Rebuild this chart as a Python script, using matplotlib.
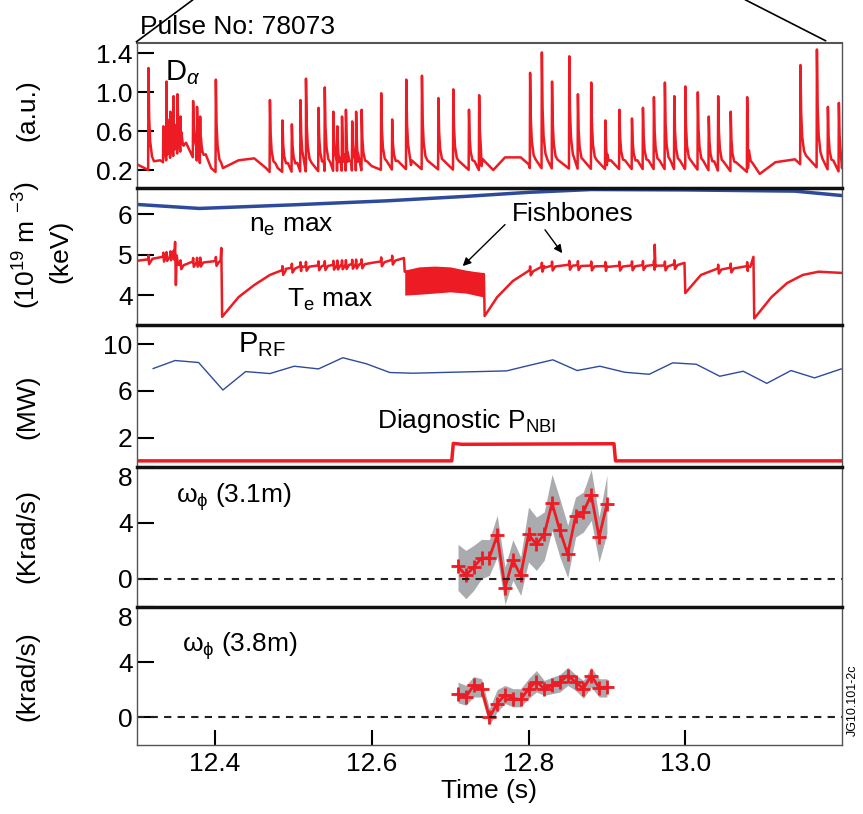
"""
JET pulse 78073: D-alpha, ne/Te, heating power and toroidal rotation traces.
"""

import numpy as np
import matplotlib.pyplot as plt
from matplotlib.lines import Line2D

plt.rcParams['font.family'] = ['Liberation Sans', 'DejaVu Sans']
plt.rcParams['mathtext.fontset'] = 'custom'
plt.rcParams['mathtext.rm'] = 'Liberation Sans'
plt.rcParams['mathtext.it'] = 'Liberation Sans:italic'

RED = '#ed1c24'
BLUE = '#2e4b9b'
GREY = '#a9abae'
FS = 19

# ---- D-alpha: ELM spike times (s) and peak heights (a.u.)
elm_t = [12.315, 12.334, 12.338, 12.343, 12.347, 12.352, 12.356, 12.372, 12.377,
         12.381, 12.401, 12.470, 12.486, 12.498, 12.509, 12.516, 12.532, 12.540,
         12.551, 12.556, 12.562, 12.567, 12.575, 12.580, 12.587, 12.612, 12.626,
         12.644, 12.664, 12.685, 12.704, 12.724, 12.737, 12.802, 12.817, 12.830,
         12.852, 12.863, 12.880, 12.898, 12.916, 12.932, 12.946, 12.960, 12.974,
         12.986, 13.000, 13.016, 13.030, 13.042, 13.058, 13.079, 13.147, 13.168,
         13.182, 13.196]
elm_h = [1.25, 0.65, 1.11, 0.80, 0.96, 0.98, 0.75, 0.91, 0.85,
         0.75, 1.13, 0.92, 0.71, 0.67, 0.92, 1.14, 0.84, 1.05,
         0.80, 0.65, 0.75, 0.82, 0.70, 0.80, 0.82, 0.99, 0.72,
         1.13, 1.17, 0.94, 1.03, 0.82, 0.97, 1.20, 1.41, 1.11,
         1.37, 0.98, 1.10, 0.71, 0.82, 0.73, 0.84, 0.95, 1.10,
         0.96, 1.06, 1.00, 0.75, 0.96, 0.80, 0.95, 1.28, 1.44,
         0.85, 0.89]
# inter-ELM baseline
da_base_t = [12.300, 12.310, 12.330, 12.360, 12.395, 12.410, 12.430, 12.450, 12.465,
             12.480, 12.600, 12.650, 12.740, 12.755, 12.770, 12.790, 12.800, 12.900,
             13.000, 13.080, 13.095, 13.115, 13.140, 13.200]
da_base_v = [0.26, 0.22, 0.30, 0.45, 0.22, 0.22, 0.30, 0.32, 0.22,
             0.22, 0.24, 0.25, 0.24, 0.20, 0.33, 0.33, 0.26, 0.25,
             0.25, 0.22, 0.16, 0.28, 0.31, 0.22]

# ---- central density and electron temperature
ne_t = [12.30, 12.38, 12.50, 12.62, 12.72, 12.80, 12.88, 13.00, 13.14, 13.20]
ne_v = [6.25, 6.15, 6.24, 6.34, 6.45, 6.55, 6.62, 6.61, 6.58, 6.47]

te_t = [12.300, 12.320, 12.347, 12.349, 12.350, 12.353, 12.370, 12.407, 12.408,
        12.409, 12.430, 12.450, 12.470, 12.490, 12.510, 12.550, 12.600, 12.641,
        12.642, 12.743, 12.744, 12.760, 12.780, 12.800, 12.820, 12.850, 12.900,
        12.960, 12.961, 12.962, 12.999, 13.000, 13.020, 13.040, 13.080, 13.087,
        13.088, 13.110, 13.130, 13.150, 13.170, 13.200]
te_v = [4.85, 4.90, 5.00, 5.32, 4.25, 4.75, 4.82, 4.85, 5.17,
        3.46, 3.95, 4.25, 4.50, 4.65, 4.72, 4.75, 4.80, 4.92,
        4.58, 4.52, 3.48, 3.95, 4.35, 4.60, 4.72, 4.75, 4.72,
        4.75, 5.25, 4.70, 4.80, 4.05, 4.50, 4.65, 4.72, 4.95,
        3.42, 3.95, 4.30, 4.50, 4.58, 4.55]
# fishbone-modulated phase: envelope of the oscillating Te
fb_t = [12.642, 12.660, 12.680, 12.700, 12.720, 12.743]
fb_lo = [4.00, 4.02, 4.05, 4.08, 4.05, 3.95]
fb_hi = [4.62, 4.70, 4.72, 4.70, 4.62, 4.55]

# ---- heating power
prf_t = [12.321, 12.349, 12.379, 12.410, 12.439, 12.470, 12.501, 12.532, 12.563,
         12.593, 12.623, 12.652, 12.772, 12.802, 12.831, 12.862, 12.891, 12.923,
         12.954, 12.984, 13.014, 13.044, 13.074, 13.104, 13.135, 13.165, 13.199]
prf_v = [7.92, 8.61, 8.44, 6.08, 7.66, 7.49, 8.12, 7.89, 8.85,
         8.33, 7.58, 7.52, 7.72, 8.21, 8.67, 7.75, 8.12, 7.60,
         7.43, 8.41, 8.29, 7.26, 7.69, 6.65, 7.75, 7.12, 7.89]
nbi_t = [12.30, 12.702, 12.704, 12.715, 12.909, 12.911, 13.20]
nbi_v = [0.0, 0.0, 1.50, 1.42, 1.47, 0.0, 0.0]

# ---- toroidal rotation from CXRS, two radii
cx_t = [12.71, 12.72, 12.73, 12.74, 12.75, 12.76, 12.77, 12.78, 12.79, 12.80,
        12.81, 12.82, 12.83, 12.84, 12.85, 12.86, 12.87, 12.88, 12.89, 12.90]
w31 = [0.88, 0.24, 0.83, 1.47, 1.50, 3.09, -0.64, 1.31, 0.24, 3.16,
       2.45, 3.16, 5.40, 3.45, 1.74, 4.45, 4.76, 6.00, 2.97, 5.31]
w31_hi = [2.45, 2.02, 2.38, 2.81, 2.79, 4.52, 0.83, 2.79, 1.55, 5.12,
          4.40, 4.76, 7.45, 5.71, 3.81, 5.83, 6.19, 7.79, 4.40, 7.38]
w31_lo = [-0.84, -1.43, -0.84, 0.00, 0.24, 1.55, -1.84, -0.12, -1.19, 1.19,
          0.59, 1.31, 3.45, 1.55, 0.07, 2.97, 3.33, 4.16, 1.19, 3.21]
w38 = [1.71, 1.47, 2.31, 2.07, 0.00, 1.00, 1.64, 1.36, 1.29, 2.07,
       2.59, 2.07, 2.31, 2.55, 3.02, 2.55, 2.07, 3.02, 2.14, 2.19]
w38_hi = [2.55, 2.31, 2.95, 2.79, 0.64, 2.00, 2.31, 2.07, 2.07, 2.79,
          3.38, 2.67, 2.90, 3.09, 3.62, 3.09, 2.67, 3.62, 2.79, 2.79]
w38_lo = [1.05, 0.88, 1.47, 1.47, -0.55, 0.40, 1.00, 0.76, 0.76, 1.36,
          1.83, 1.59, 1.71, 1.83, 2.31, 1.95, 1.38, 2.19, 1.47, 1.47]


def elm_trace(base_t, base_v, spk_t, spk_h):
    """Polyline for a baseline with sharp ELM spikes on top."""
    pts = list(zip(base_t, base_v))
    for t, h in zip(spk_t, spk_h):
        b = np.interp(t, base_t, base_v)
        pts += [(t - 0.0004, b - 0.04), (t, h), (t + 0.0009, b + 0.5 * (h - b)),
                (t + 0.0022, b + 0.25 * (h - b)), (t + 0.0045, b + 0.1 * (h - b)),
                (t + 0.007, b + 0.05)]
    pts.sort()
    tt, vv = zip(*pts)
    return np.array(tt), np.array(vv)


def te_with_elms(t_knots, v_knots, spk_t):
    """Te trace with the small kicks each ELM leaves on it."""
    pts = list(zip(t_knots, v_knots))
    for t in spk_t:
        b = np.interp(t, t_knots, v_knots)
        if b < 4.6:
            continue
        pts += [(t - 0.0004, b), (t, b + 0.10), (t + 0.0008, b - 0.12), (t + 0.004, b - 0.02)]
    pts.sort()
    tt, vv = zip(*pts)
    return np.array(tt), np.array(vv)


W_PX, H_PX = 863, 814
fig = plt.figure(figsize=(W_PX / 100, H_PX / 100), dpi=100)
left, right = 136.7, 842.0
edges = [42.7, 187.5, 324.5, 466.7, 606.7, 745.0]
axes = []
for top, bot in zip(edges[:-1], edges[1:]):
    ax = fig.add_axes([left / W_PX, 1 - bot / H_PX, (right - left) / W_PX, (bot - top) / H_PX])
    ax.set_xlim(12.3, 13.2)
    for s in ('left', 'right', 'bottom'):
        ax.spines[s].set_color('#555555')
        ax.spines[s].set_linewidth(1.0)
    ax.spines['top'].set_linewidth(2.5)
    ax.spines['top'].set_color('#111111')
    ax.tick_params(axis='y', direction='in', length=12, width=1.5, labelsize=FS, pad=3)
    ax.tick_params(axis='x', bottom=False, labelbottom=False)
    axes.append(ax)
ax1, ax2, ax3, ax4, ax5 = axes
ax1.spines['top'].set_linewidth(1.5)
ax1.spines['top'].set_color('#555555')

# D-alpha
t, v = elm_trace(da_base_t, da_base_v, elm_t, elm_h)
ax1.plot(t, v, color=RED, lw=1.8)
ax1.set_ylim(0.02, 1.51)
ax1.set_yticks([0.2, 0.6, 1.0, 1.4])
ax1.text(12.336, 1.2, r'D$_\alpha$', fontsize=21, va='center')

# ne and Te
ax2.plot(ne_t, ne_v, color=BLUE, lw=2.5)
t, v = te_with_elms(te_t, te_v, elm_t)
ax2.plot(t, v, color=RED, lw=1.8)
ax2.fill_between(fb_t, fb_lo, fb_hi, color=RED, lw=0)
ax2.set_ylim(3.27, 6.67)
ax2.set_yticks([4, 5, 6])
ax2.text(12.498, 5.71, r'n$_{\rm e}$ max', fontsize=FS, ha='center', va='center')
ax2.text(12.547, 3.87, r'T$_{\rm e}$ max', fontsize=FS, ha='center', va='center')
ax2.text(12.857, 6.0, 'Fishbones', fontsize=FS, ha='center', va='center')
arrow = dict(arrowstyle='-|>', color='k', lw=1, mutation_scale=12, shrinkA=0, shrinkB=0)
ax2.annotate('', xy=(12.716, 4.72), xytext=(12.770, 5.75), arrowprops=arrow)
ax2.annotate('', xy=(12.843, 5.04), xytext=(12.821, 5.62), arrowprops=arrow)

# heating power
ax3.plot(prf_t, prf_v, color=BLUE, lw=1.0)
ax3.plot(nbi_t, nbi_v, color=RED, lw=2.5)
ax3.set_ylim(-0.5, 11.7)
ax3.set_yticks([2, 6, 10])
ax3.text(12.429, 10.0, r'P$_{\rm RF}$', fontsize=21, va='center')
ax3.text(12.607, 3.4, r'Diagnostic P$_{\rm NBI}$', fontsize=FS, va='center')

# rotation
omega = r'ω$_{\rm ϕ}$'
for ax, w, lo, hi in [(ax4, w31, w31_lo, w31_hi), (ax5, w38, w38_lo, w38_hi)]:
    ax.fill_between(cx_t, lo, hi, color=GREY, lw=0)
    ax.plot(cx_t, w, color=RED, lw=2, marker='+', ms=10, mew=2)
    ax.axhline(0, color='#222222', lw=1.5, ls=(0, (3.5, 3)))
    ax.set_ylim(-2, 8)
    ax.set_yticks([0, 4, 8])
    ax.yaxis.get_major_ticks()[-1].label1.set_verticalalignment('top')
ax4.text(12.35, 5.83, omega + ' (3.1m)', fontsize=FS, va='center')
ax5.text(12.358, 5.16, omega + ' (3.8m)', fontsize=FS, va='center')

ax5.spines['bottom'].set_color('#555555')
ax5.tick_params(axis='x', bottom=True, labelbottom=True, direction='in',
                length=11, width=1.5, labelsize=FS, pad=5)
ax5.set_xticks([12.4, 12.6, 12.8, 13.0])
ax5.set_xticklabels(['12.4', '12.6', '12.8', '13.0'])
ax5.set_xlabel('Time (s)', fontsize=FS, labelpad=2)

# axis titles on the left
ylab = dict(rotation=90, ha='center', va='center', fontsize=FS)
fig.text(27 / W_PX, 1 - 110 / H_PX, '(a.u.)', **ylab)
fig.text(27 / W_PX, 1 - 245 / H_PX, r'(10$^{19}$ m $^{-3}$)', **ylab)
fig.text(60 / W_PX, 1 - 251 / H_PX, '(keV)', **ylab)
fig.text(27 / W_PX, 1 - 407 / H_PX, '(MW)', **ylab)
fig.text(27 / W_PX, 1 - 536 / H_PX, '(Krad/s)', **ylab)
fig.text(27 / W_PX, 1 - 676 / H_PX, '(krad/s)', **ylab)

fig.text(140 / W_PX, 1 - 26.7 / H_PX, 'Pulse No: 78073', fontsize=FS, va='center')
fig.text(853 / W_PX, 1 - 700 / H_PX, 'JG10.101-2c', fontsize=9, rotation=90,
         ha='center', va='center')
fig.add_artist(Line2D([136.5 / W_PX, 192.6 / W_PX], [1 - 41.7 / H_PX, 1.0],
                      transform=fig.transFigure, color='k', lw=1.2))
fig.add_artist(Line2D([745.7 / W_PX, 825.5 / W_PX], [1.0, 1 - 40.7 / H_PX],
                      transform=fig.transFigure, color='k', lw=1.2))

fig.savefig('out.png', dpi=100)
